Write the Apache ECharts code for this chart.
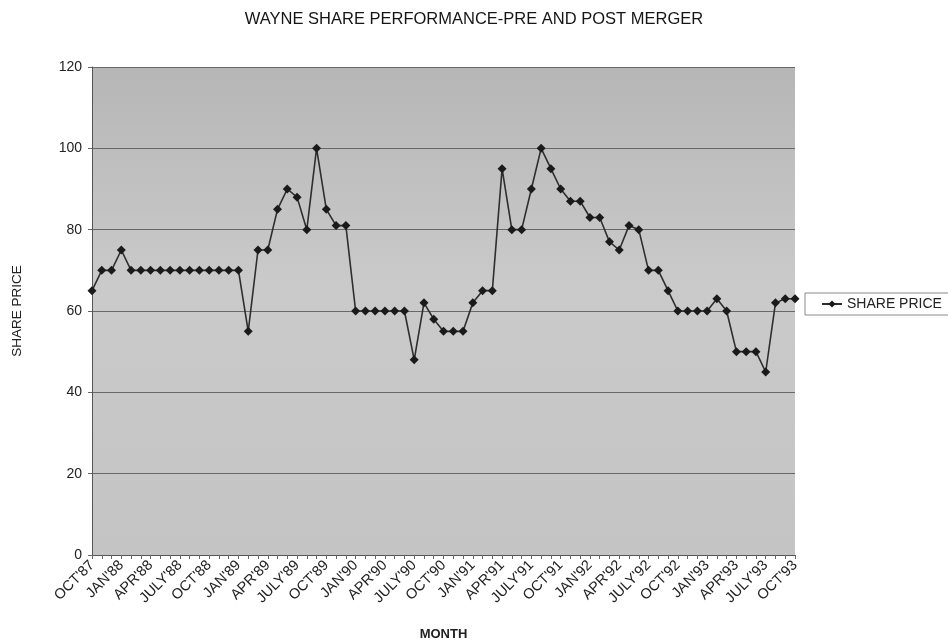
<!DOCTYPE html>
<html>
<head>
<meta charset="utf-8">
<title>Wayne share performance</title>
<script src="https://cdn.jsdelivr.net/npm/echarts@6/dist/echarts.min.js"></script>
<style>
  html, body { margin: 0; padding: 0; background: #ffffff; }
  #chart { width: 948px; height: 643px; }
</style>
</head>
<body>
<div id="chart"></div>
<script>
// Month abbreviations used for the category labels (July is spelled out)
const monthNames = ["JAN", "FEB", "MAR", "APR", "MAY", "JUNE", "JULY", "AUG", "SEP", "OCT", "NOV", "DEC"];
const startYear = 1987;
const startMonth = 9;     // October (0-based)
const monthCount = 73;    // OCT'87 .. OCT'93

// Monthly closing share price
const sharePrice = [
  65, 70, 70, 75, 70, 70, 70, 70, 70, 70, 70, 70, 70, 70, 70, 70,
  55, 75, 75, 85, 90, 88, 80, 100, 85, 81, 81,
  60, 60, 60, 60, 60, 60,
  48, 62, 58, 55, 55, 55, 62, 65, 65, 95, 80, 80, 90, 100, 95, 90,
  87, 87, 83, 83, 77, 75, 81, 80, 70, 70, 65,
  60, 60, 60, 60,
  63, 60, 50, 50, 50, 45, 62, 63, 63
];

const yTicks = { min: 0, max: 120, step: 20 };

// Build "OCT'87"-style category names, one per month
const months = [];
for (let i = 0; i < monthCount; i++) {
  const m = (startMonth + i) % 12;
  const y = startYear + Math.floor((startMonth + i) / 12);
  months.push(monthNames[m] + "'" + String(y % 100).padStart(2, "0"));
}

const chart = echarts.init(document.getElementById("chart"), null, { renderer: "canvas" });
const font = "'Liberation Sans', Arial, sans-serif";

chart.setOption({
  backgroundColor: "#ffffff",
  animation: false,
  textStyle: { fontFamily: font },
  title: {
    text: "WAYNE SHARE PERFORMANCE-PRE AND POST MERGER",
    left: "center",
    top: 6,
    textStyle: { fontFamily: font, fontSize: 16.5, fontWeight: "normal", color: "#151515" }
  },
  legend: {
    data: ["SHARE PRICE"],
    left: 805,
    top: 293,
    orient: "vertical",
    padding: [4, 8, 4, 16],
    itemWidth: 20,
    itemHeight: 9,
    itemGap: 4,
    borderColor: "#8a8a8a",
    borderWidth: 1,
    backgroundColor: "#ffffff",
    textStyle: { fontFamily: font, fontSize: 14, color: "#222" }
  },
  grid: {
    left: 92,
    right: 153,
    top: 67,
    bottom: 88,
    outerBoundsMode: "none",
    containLabel: false,
    show: true,
    backgroundColor: new echarts.graphic.LinearGradient(0, 0, 0, 1, [
      { offset: 0, color: "#b6b6b6" },
      { offset: 0.18, color: "#bebebe" },
      { offset: 0.45, color: "#cacaca" },
      { offset: 1, color: "#c4c4c4" }
    ]),
    borderWidth: 0
  },
  xAxis: {
    type: "category",
    data: months,
    boundaryGap: false,
    name: "MONTH",
    nameLocation: "middle",
    nameGap: 73,
    nameTextStyle: { fontFamily: font, fontSize: 13, fontWeight: "bold", color: "#222" },
    axisLine: { lineStyle: { color: "#555", width: 1 } },
    axisTick: { show: true, interval: 0, length: 4, lineStyle: { color: "#666" } },
    axisLabel: {
      interval: 2,
      rotate: 45,
      margin: 8,
      fontFamily: font,
      fontSize: 14.5,
      color: "#222"
    },
    splitLine: { show: false }
  },
  yAxis: {
    type: "value",
    min: yTicks.min,
    max: yTicks.max,
    interval: yTicks.step,
    name: "SHARE PRICE",
    nameLocation: "middle",
    nameGap: 68,
    nameTextStyle: { fontFamily: font, fontSize: 13.5, color: "#222" },
    axisLine: { show: true, lineStyle: { color: "#555", width: 1 } },
    axisTick: { show: true, length: 4, lineStyle: { color: "#666" } },
    axisLabel: { fontFamily: font, fontSize: 14, color: "#222", margin: 10 },
    splitLine: { show: true, lineStyle: { color: "#686868", width: 1.2 } }
  },
  series: [{
    name: "SHARE PRICE",
    type: "line",
    data: sharePrice,
    symbol: "diamond",
    symbolSize: 9,
    showAllSymbol: true,
    lineStyle: { color: "#2e2e2e", width: 1.6 },
    itemStyle: { color: "#1a1a1a" }
  }]
});
</script>
</body>
</html>
